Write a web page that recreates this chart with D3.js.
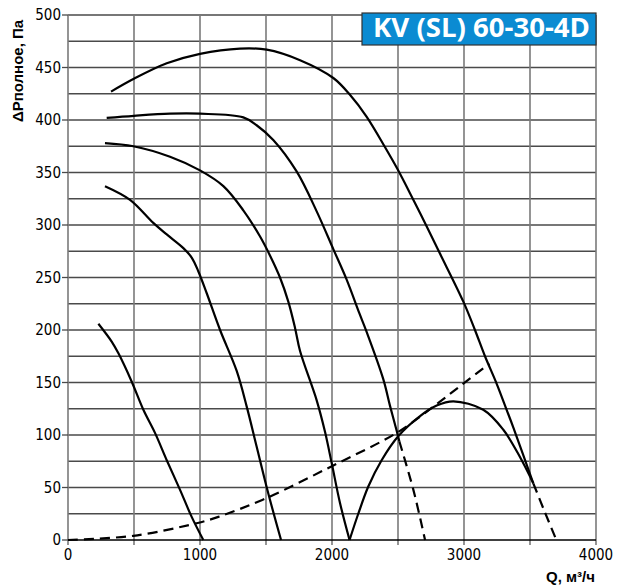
<!DOCTYPE html>
<html>
<head>
<meta charset="utf-8">
<script src="https://cdn.jsdelivr.net/npm/d3@7"></script>
<style>
  body { margin: 0; background: #fff; }
  svg { display: block; }
</style>
</head>
<body>
<div id="chart"></div>
<script>
// [Q m3/h, dP Pa]
const curveA = [[326, 427], [495, 439], [748, 454], [1000, 463], [1303, 468], [1505, 467], [1758, 457], [2010, 440], [2136, 424], [2263, 403], [2402, 374], [2497, 353], [2616, 324], [2712, 300], [2813, 274], [2995, 227], [3083, 200], [3159, 175], [3247, 149], [3323, 124], [3374, 107], [3525, 54]];
const curveATail = [[3525, 54], [3611, 27], [3700, 0]];
const curveB = [[293, 402], [500, 404], [773, 406], [1000, 406], [1328, 402.5], [1429, 395], [1555, 381], [1732, 351], [1884, 313], [2010, 277], [2111, 248], [2207, 216], [2263, 198], [2389, 153], [2439, 128], [2490, 104], [2510, 94]];
const curveBTail = [[2510, 94], [2616, 48], [2705, 0]];
const curveC = [[280, 378], [495, 375], [773, 365], [1000, 352], [1177, 337], [1328, 314], [1455, 289], [1530, 271], [1606, 250], [1669, 227], [1720, 202], [1758, 180], [1884, 133], [1947, 103], [1998, 73], [2061, 35], [2133, 0]];
const curveD = [[280, 337], [470, 324], [646, 302], [748, 291], [874, 278], [937, 269], [987, 256], [1051, 235], [1152, 200], [1278, 161], [1354, 127], [1429, 89], [1518, 44], [1614, 0]];
const curveE = [[230, 206], [331, 189], [381, 178], [482, 151], [571, 124], [659, 102], [748, 76], [848, 48], [937, 22], [1025, 0]];
const hump = [[2133, 0], [2199, 25], [2275, 51], [2376, 76], [2503, 99], [2667, 118], [2793, 128], [2920, 132], [3146, 124], [3298, 105], [3424, 79], [3525, 54]];
const network = [[0, 0], [495, 4], [975, 16], [1139, 22], [1505, 40], [2010, 71], [2490, 102], [2768, 127], [2995, 149], [3192, 168]];

const xTickLabels = [0, 1000, 2000, 3000, 4000];
const yTickLabels = [0, 50, 100, 150, 200, 250, 300, 350, 400, 450, 500];
const title = 'KV (SL) 60-30-4D';

const config = {
  width: 619,
  height: 588,
  marginLeft: 68,
  marginTop: 15,
  plotWidth: 528,
  plotHeight: 525,
  tickFont: '"Liberation Sans Narrow", "Arial Narrow", "DejaVu Sans Condensed", sans-serif',
  labelFont: '"Liberation Sans", Arial, sans-serif'
};

const svg = d3.select('#chart').append('svg')
  .attr('width', config.width)
  .attr('height', config.height);

const g = svg.append('g')
  .attr('transform', 'translate(' + config.marginLeft + ',' + config.marginTop + ')');

const x = d3.scaleLinear().domain([0, 4000]).range([0, config.plotWidth]);
const y = d3.scaleLinear().domain([0, 500]).range([config.plotHeight, 0]);

// grid
g.append('g')
  .selectAll('line')
  .data(d3.range(25, 501, 25))
  .join('line')
  .attr('x1', 0)
  .attr('x2', config.plotWidth)
  .attr('y1', d => y(d))
  .attr('y2', d => y(d))
  .style('stroke', '#4a4a4a')
  .style('stroke-width', 1.3);

g.append('g')
  .selectAll('line')
  .data(d3.range(500, 4001, 500))
  .join('line')
  .attr('x1', d => x(d))
  .attr('x2', d => x(d))
  .attr('y1', 0)
  .attr('y2', config.plotHeight + 5)
  .style('stroke', '#7a7a7a')
  .style('stroke-width', 1.6);

// axes
g.append('line')
  .attr('x1', 0).attr('x2', 0)
  .attr('y1', 0).attr('y2', config.plotHeight + 5)
  .style('stroke', '#7a7a7a')
  .style('stroke-width', 1.6);
g.append('line')
  .attr('x1', 0).attr('x2', config.plotWidth)
  .attr('y1', config.plotHeight).attr('y2', config.plotHeight)
  .style('stroke', '#000')
  .style('stroke-width', 1.5);

g.append('g')
  .selectAll('line')
  .data(yTickLabels)
  .join('line')
  .attr('x1', -6)
  .attr('x2', 0)
  .attr('y1', d => y(d))
  .attr('y2', d => y(d))
  .style('stroke', '#4a4a4a')
  .style('stroke-width', 1.3);

g.append('g')
  .selectAll('text')
  .data(yTickLabels)
  .join('text')
  .attr('x', -7)
  .attr('y', d => y(d))
  .attr('dy', '0.36em')
  .attr('text-anchor', 'end')
  .style('font-family', config.tickFont)
  .style('font-size', '15px')
  .text(d => d);

g.append('g')
  .selectAll('text')
  .data(xTickLabels)
  .join('text')
  .attr('x', d => x(d))
  .attr('y', config.plotHeight + 20)
  .attr('text-anchor', 'middle')
  .style('font-family', config.tickFont)
  .style('font-size', '15px')
  .text(d => d);

// curves
const line = d3.line()
  .x(d => x(d[0]))
  .y(d => y(d[1]))
  .curve(d3.curveCatmullRom.alpha(0.5));

const solid = [curveA, curveB, curveC, curveD, curveE, hump];
const dashed = [curveATail, curveBTail, network];

g.append('g')
  .selectAll('path')
  .data(solid)
  .join('path')
  .attr('d', line)
  .style('fill', 'none')
  .style('stroke', '#000')
  .style('stroke-width', 2.2);

g.append('g')
  .selectAll('path')
  .data(dashed)
  .join('path')
  .attr('d', line)
  .style('fill', 'none')
  .style('stroke', '#000')
  .style('stroke-width', 2.2)
  .style('stroke-dasharray', '10,6');

// title box
svg.append('rect')
  .attr('x', 362)
  .attr('y', 13)
  .attr('width', 234)
  .attr('height', 32)
  .style('fill', '#0b8bd2')
  .style('stroke', '#333')
  .style('stroke-width', 1.2);
svg.append('text')
  .attr('x', 373)
  .attr('y', 37)
  .attr('textLength', 217)
  .attr('lengthAdjust', 'spacingAndGlyphs')
  .style('font-family', '"Open Sans", sans-serif')
  .style('font-weight', 'bold')
  .style('font-size', '27px')
  .style('fill', '#fff')
  .text(title);

// axis titles
svg.append('text')
  .attr('transform', 'translate(23,71) rotate(-90)')
  .attr('text-anchor', 'middle')
  .style('font-family', config.labelFont)
  .style('font-weight', 'bold')
  .style('font-size', '15px')
  .text('ΔPполное, Па');

svg.append('text')
  .attr('x', 595)
  .attr('y', 582)
  .attr('text-anchor', 'end')
  .style('font-family', config.labelFont)
  .style('font-weight', 'bold')
  .style('font-size', '15px')
  .text('Q, м³/ч');
</script>
</body>
</html>
